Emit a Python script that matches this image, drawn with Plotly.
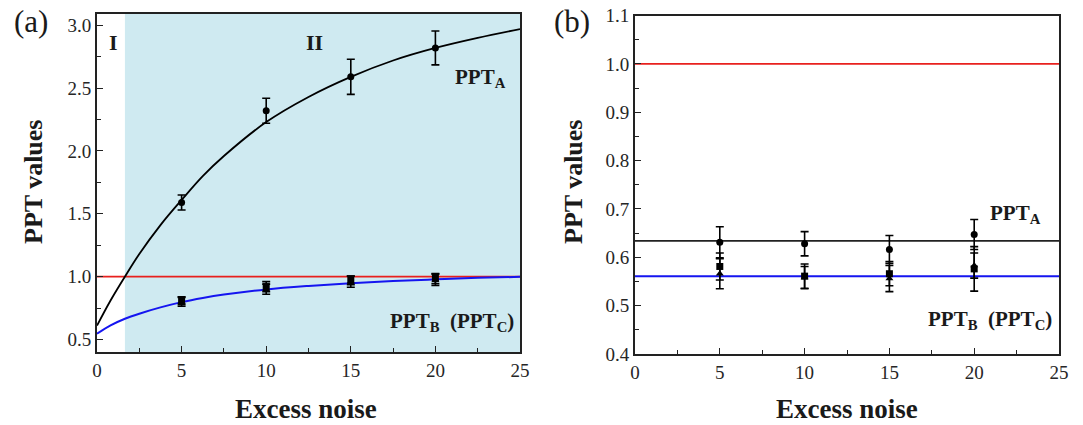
import plotly.graph_objects as go

# ---- measured data ----
noise = [5, 10, 15, 20]

# panel (a)
a_ppt_A = [1.59, 2.32, 2.59, 2.82]
a_err_A = [0.06, 0.10, 0.14, 0.135]
a_ppt_B = [0.81, 0.92, 0.97, 0.985]
a_err_B = [0.03, 0.04, 0.035, 0.04]
a_ppt_C = [0.80, 0.90, 0.96, 0.975]
a_err_C = [0.035, 0.04, 0.045, 0.045]

# fitted curves for panel (a)
fit_x = [0, 0.8, 1.65, 2.5, 3.75, 5, 6.25, 7.5, 10, 12.5, 15, 17.5, 20, 22.5, 25]
fit_A = [0.61, 0.81, 1.0, 1.18, 1.41, 1.61, 1.80, 1.96, 2.23, 2.43, 2.59, 2.72, 2.82, 2.90, 2.97]
fit_BC = [0.545, 0.612, 0.665, 0.705, 0.755, 0.797, 0.83, 0.857, 0.898, 0.926, 0.948, 0.965, 0.978, 0.99, 0.998]

# panel (b)
b_ppt_A = [0.631, 0.628, 0.616, 0.647]
b_err_A = [0.032, 0.025, 0.029, 0.031]
b_ppt_B = [0.581, 0.561, 0.566, 0.576]
b_err_B = [0.028, 0.025, 0.025, 0.046]
b_ppt_C = [0.566, 0.558, 0.556, 0.583]
b_err_C = [0.031, 0.023, 0.027, 0.026]
b_level_A = 0.634
b_level_BC = 0.561

threshold = 1.0
region_edge = 1.65
x_span = [0, 25]

W, H = 1083, 425
SERIF = "Liberation Serif"
INK = "#1a1a1a"

fig = go.Figure()


def points(x, y, err, symbol, xa, ya):
    fig.add_trace(go.Scatter(
        x=x, y=y, mode="markers", xaxis=xa, yaxis=ya, showlegend=False,
        marker=dict(symbol=symbol, size=7, color="black"),
        error_y=dict(type="data", array=err, visible=True, color="black",
                     thickness=1.6, width=4),
    ))


def line(x, y, color, width, xa, ya, shape="linear"):
    fig.add_trace(go.Scatter(
        x=x, y=y, mode="lines", xaxis=xa, yaxis=ya, showlegend=False,
        line=dict(color=color, width=width, shape=shape),
    ))


# panel (a)
line(x_span, [threshold, threshold], "#e8201e", 1.6, "x", "y")
line(fit_x, fit_A, "black", 1.8, "x", "y", "spline")
line(fit_x, fit_BC, "#1515f0", 2.0, "x", "y", "spline")
points(noise, a_ppt_B, a_err_B, "square", "x", "y")
points(noise, a_ppt_C, a_err_C, "triangle-up", "x", "y")
points(noise, a_ppt_A, a_err_A, "circle", "x", "y")

# panel (b)
line(x_span, [threshold, threshold], "#e8201e", 1.6, "x2", "y2")
line(x_span, [b_level_A, b_level_A], "#222222", 1.9, "x2", "y2")
line(x_span, [b_level_BC, b_level_BC], "#1515f0", 2.0, "x2", "y2")
points(noise, b_ppt_B, b_err_B, "square", "x2", "y2")
points(noise, b_ppt_C, b_err_C, "triangle-up", "x2", "y2")
points(noise, b_ppt_A, b_err_A, "circle", "x2", "y2")

axis_common = dict(
    showline=True, linecolor="#222222", linewidth=1.7, mirror=True,
    ticks="inside", ticklen=6, tickwidth=1.3, tickcolor="#222222",
    showgrid=False, zeroline=False, automargin=False,
    tickfont=dict(family=SERIF, size=19, color="#262626"),
)

fig.update_layout(
    width=W, height=H, autosize=False,
    margin=dict(l=0, r=0, t=0, b=0, pad=0, autoexpand=False),
    paper_bgcolor="white", plot_bgcolor="white",
    xaxis=dict(domain=[97 / W, 520 / W], range=[0, 25], dtick=5, tick0=0,
               minor=dict(ticks="inside", ticklen=4, dtick=2.5, tick0=0, tickcolor="#222222"),
               anchor="y", **axis_common),
    yaxis=dict(domain=[1 - 352 / H, 1 - 14 / H], range=[0.4, 3.09], dtick=0.5, tick0=0,
               tickformat=".1f",
               minor=dict(ticks="inside", ticklen=4, dtick=0.25, tick0=0, tickcolor="#222222"),
               anchor="x", **axis_common),
    xaxis2=dict(domain=[635 / W, 1059 / W], range=[0, 25], dtick=5, tick0=0,
                minor=dict(ticks="inside", ticklen=4, dtick=2.5, tick0=0, tickcolor="#222222"),
                anchor="y2", **axis_common),
    yaxis2=dict(domain=[1 - 354 / H, 1 - 15.5 / H], range=[0.4, 1.1], dtick=0.1, tick0=0,
                tickformat=".1f",
                minor=dict(ticks="inside", ticklen=4, dtick=0.05, tick0=0, tickcolor="#222222"),
                anchor="x2", **axis_common),
)

# shaded region II in panel (a)
fig.add_shape(type="rect", xref="x", yref="y domain", x0=region_edge, x1=25, y0=0, y1=1,
              fillcolor="#cfeaf1", line=dict(width=0), layer="below")

ann = []


def text(s, x, y, size, bold=False, angle=0):
    # x, y are given in pixels from the top-left corner of the figure
    ann.append(dict(text=f"<b>{s}</b>" if bold else s, x=x / W, y=1 - y / H,
                    xref="paper", yref="paper", showarrow=False, textangle=angle,
                    xanchor="center", yanchor="middle",
                    font=dict(family=SERIF, size=size, color=INK)))


# panel tags
text("(a)", 31, 22, 31)
text("(b)", 572, 22, 31)

# axis titles
text("PPT values", 33, 182, 26, bold=True, angle=-90)
text("PPT values", 573, 182, 26, bold=True, angle=-90)
text("Excess noise", 306, 409, 27, bold=True)
text("Excess noise", 847, 409, 27, bold=True)

# region labels
text("I", 113, 42, 22, bold=True)
text("II", 314, 42, 22, bold=True)

# curve labels
text("PPT<sub>A</sub>", 480, 78, 21, bold=True)
text("PPT<sub>B</sub>  (PPT<sub>C</sub>)", 452, 322, 21, bold=True)
text("PPT<sub>A</sub>", 1015, 214, 21, bold=True)
text("PPT<sub>B</sub>  (PPT<sub>C</sub>)", 990, 320, 21, bold=True)

fig.update_layout(annotations=ann)

fig.write_html("out.html")
